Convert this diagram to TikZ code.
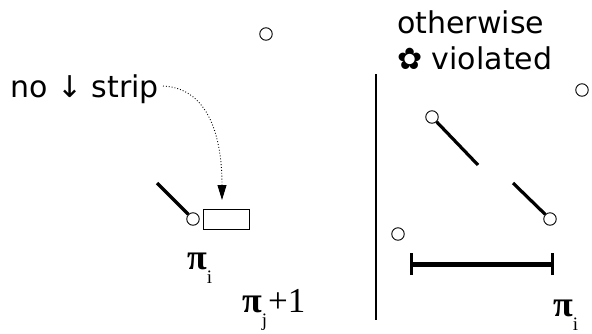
\documentclass[tikz,border=0pt]{standalone}
\usepackage{fontspec}
\setmainfont{DejaVu Sans}
\newfontfamily\serifpi{Liberation Serif}
\usetikzlibrary{arrows.meta}
\tikzset{
  dot/.style={circle,draw,line width=0.9pt,minimum size=12.5pt,inner sep=0pt},
  thick seg/.style={line width=3.2pt},
  lbl/.style={font=\fontsize{30}{35}\selectfont,inner sep=0pt},
  pilbl/.style={font=\serifpi\fontsize{35}{38}\selectfont,inner sep=0pt},
}
\newcommand{\bigpi}{{\fontsize{36}{36}\selectfont\bfseries π}}
\newcommand{\pisub}[1]{\raisebox{-14pt}{\fontsize{19}{19}\selectfont #1}}
\begin{document}
\begin{tikzpicture}[x=1pt,y=-1pt]
\useasboundingbox (0,0) rectangle (592,333);
% left part
\node[dot] (c0) at (266,34) {};
\node[lbl,anchor=base west] (nostrip) at (10,97) {no ↓ strip};
\coordinate (ds) at (163,86);
\node[dot] (c1) at (193,219) {};
\coordinate (l1) at (157,183);
\draw[thick seg] (l1) -- (c1);
\node[draw,line width=0.9pt,minimum width=46pt,minimum height=20pt,inner sep=0pt] (strip) at (226,219) {};
\coordinate (tip) at (222,200);
\draw[dotted,line width=0.9pt,-{Triangle[length=15pt,width=9pt]}] (ds) .. controls (205,88) and (222,130) .. (tip);
\node[pilbl,anchor=base west] (pi1) at (187,269) {\bigpi\pisub{i}};
\node[pilbl,anchor=base west] (pi2) at (242,312) {\bigpi\pisub{j}\kern1pt+1};
% divider
\coordinate (v1) at (376,74);
\coordinate (v2) at (376,320);
\draw[line width=2pt] (v1) -- (v2);
% right part
\node[lbl,anchor=base west] (oth) at (397,33) {otherwise};
\node[lbl,anchor=base west] (vio) at (397,69) {✿ violated};
\node[dot] (c2) at (582,90) {};
\node[dot] (c3) at (432,117) {};
\coordinate (l3) at (478,165);
\draw[thick seg] (c3) -- (l3);
\node[dot] (c4) at (550,219) {};
\coordinate (l4) at (513,183);
\draw[thick seg] (l4) -- (c4);
\node[dot] (c5) at (398,234) {};
\coordinate (b1) at (411,264);
\coordinate (b2) at (552,264);
\draw[line width=5pt] (b1) -- (b2);
\draw[line width=3pt] ([yshift=-11pt]b1) -- ([yshift=11pt]b1);
\draw[line width=3pt] ([yshift=-11pt]b2) -- ([yshift=11pt]b2);
\node[pilbl,anchor=base west] (pi3) at (553,316) {\bigpi\pisub{i}};
\end{tikzpicture}
\end{document}
